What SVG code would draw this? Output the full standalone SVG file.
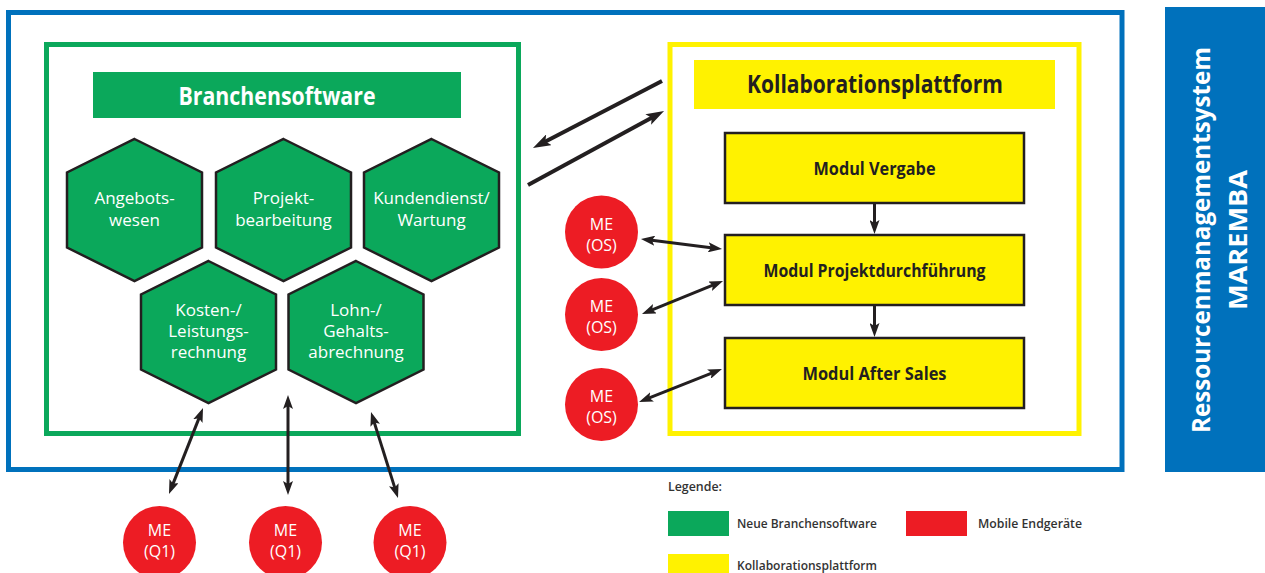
<svg xmlns="http://www.w3.org/2000/svg" width="1265" height="573" viewBox="0 0 1265 573">
<defs>
<style>
.frame{fill:none}
.hex{fill:#0BA85B;stroke:#231F20;stroke-width:2.5;stroke-linejoin:miter}
.hext{fill:#fff;font-family:"Open Sans","Noto Sans",sans-serif;font-size:17px;text-anchor:middle}
.me{fill:#ED1C24}
.met{fill:#fff;font-family:"Open Sans","Noto Sans",sans-serif;font-size:16px;text-anchor:middle}
.metq{fill:#fff;font-family:"Open Sans","Noto Sans",sans-serif;font-size:16px;text-anchor:middle}
.mod{fill:#FFF200;stroke:#231F20;stroke-width:2.5}
.modt{fill:#231F20;font-family:"Open Sans","Noto Sans",sans-serif;font-size:17px;font-weight:bold;text-anchor:middle}
.title{font-family:"Open Sans","Noto Sans",sans-serif;font-size:25px;font-weight:bold;text-anchor:middle}
.leg{fill:#333;font-family:"Open Sans","Noto Sans",sans-serif;font-size:12.5px;font-weight:600}
.arr{fill:none;stroke:#231F20;stroke-width:3}
.big{fill:none;stroke:#231F20;stroke-width:4}
</style>
<marker id="ah" viewBox="0 0 14 10" markerWidth="14" markerHeight="10" refX="5" refY="5" markerUnits="userSpaceOnUse" orient="auto-start-reverse">
<path d="M0,0 L14,5 L0,10 L3,5 z" fill="#231F20"/>
</marker>
<marker id="ahb" viewBox="0 0 18 12" markerWidth="18" markerHeight="12" refX="6" refY="6" markerUnits="userSpaceOnUse" orient="auto-start-reverse">
<path d="M0,0 L18,6 L0,12 L4,6 z" fill="#231F20"/>
</marker>
</defs>
<rect width="1265" height="573" fill="#fff"/>

<g id="outer-frame">
<rect x="8.5" y="12.5" width="1113.5" height="457" fill="none" stroke="#0071BC" stroke-width="5"/>
</g>

<g id="side-panel">
<rect x="1165" y="7" width="100" height="465" fill="#0071BC"/>
<text transform="translate(1210,240) rotate(-90)" class="title" fill="#fff" font-size="26" textLength="386" lengthAdjust="spacingAndGlyphs">Ressourcenmanagementsystem</text>
<text transform="translate(1247,240) rotate(-90)" class="title" fill="#fff" font-size="26" textLength="140" lengthAdjust="spacingAndGlyphs">MAREMBA</text>
</g>

<g id="branchensoftware">
<rect x="46.5" y="44.5" width="472" height="389" fill="none" stroke="#0BA85B" stroke-width="5"/>
<rect x="93" y="72" width="368" height="46" fill="#0BA85B"/>
<text x="277" y="105" class="title" fill="#fff" textLength="197" lengthAdjust="spacingAndGlyphs">Branchensoftware</text>
</g>

<g id="hex-angebotswesen">
<polygon class="hex" points="134.5,139 202,172.5 202,247.5 134.5,281 67,247.5 67,172.5"/>
<text class="hext" x="134.5" y="204">Angebots-</text>
<text class="hext" x="134.5" y="226">wesen</text>
</g>
<g id="hex-projektbearbeitung">
<polygon class="hex" points="283.5,139 351,172.5 351,247.5 283.5,281 216,247.5 216,172.5"/>
<text class="hext" x="283.5" y="204">Projekt-</text>
<text class="hext" x="283.5" y="226">bearbeitung</text>
</g>
<g id="hex-kundendienst">
<polygon class="hex" points="431.5,139 499,172.5 499,247.5 431.5,281 364,247.5 364,172.5"/>
<text class="hext" x="431.5" y="204">Kundendienst/</text>
<text class="hext" x="431.5" y="226">Wartung</text>
</g>
<g id="hex-kosten">
<polygon class="hex" points="208.5,261 276,294.5 276,369.5 208.5,403 141,369.5 141,294.5"/>
<text class="hext" x="208.5" y="316">Kosten-/</text>
<text class="hext" x="208.5" y="337">Leistungs-</text>
<text class="hext" x="208.5" y="358">rechnung</text>
</g>
<g id="hex-lohn">
<polygon class="hex" points="356,261 423.5,294.5 423.5,369.5 356,403 288.5,369.5 288.5,294.5"/>
<text class="hext" x="356" y="316">Lohn-/</text>
<text class="hext" x="356" y="337">Gehalts-</text>
<text class="hext" x="356" y="358">abrechnung</text>
</g>

<g id="kollaborationsplattform">
<rect x="670" y="44.5" width="409" height="389" fill="none" stroke="#FFF200" stroke-width="5"/>
<rect x="694" y="60" width="361" height="49" fill="#FFF200"/>
<text x="875" y="93" class="title" fill="#231F20" textLength="256" lengthAdjust="spacingAndGlyphs">Kollaborationsplattform</text>
</g>

<g id="modul-vergabe">
<rect class="mod" x="725" y="133" width="299" height="70"/>
<text class="modt" x="874.5" y="175" textLength="122" lengthAdjust="spacingAndGlyphs">Modul Vergabe</text>
</g>
<g id="modul-projektdurchfuehrung">
<rect class="mod" x="725" y="235" width="299" height="70"/>
<text class="modt" x="874.5" y="277" textLength="222" lengthAdjust="spacingAndGlyphs">Modul Projektdurchführung</text>
</g>
<g id="modul-after-sales">
<rect class="mod" x="725" y="338" width="299" height="70"/>
<text class="modt" x="874.5" y="380" textLength="144" lengthAdjust="spacingAndGlyphs">Modul After Sales</text>
</g>

<g id="me-os-1">
<circle class="me" cx="601.5" cy="232" r="36.5"/>
<text class="met" x="601.5" y="230">ME</text>
<text class="met" x="601.5" y="251">(OS)</text>
</g>
<g id="me-os-2">
<circle class="me" cx="601.5" cy="314.5" r="36.5"/>
<text class="met" x="601.5" y="312">ME</text>
<text class="met" x="601.5" y="333">(OS)</text>
</g>
<g id="me-os-3">
<circle class="me" cx="601.5" cy="404.5" r="36.5"/>
<text class="met" x="601.5" y="402">ME</text>
<text class="met" x="601.5" y="423">(OS)</text>
</g>

<g id="me-q1-1">
<circle class="me" cx="159.5" cy="542.5" r="36.5"/>
<text class="metq" x="159.5" y="536">ME</text>
<text class="metq" x="159.5" y="557">(Q1)</text>
</g>
<g id="me-q1-2">
<circle class="me" cx="285.5" cy="542.5" r="36.5"/>
<text class="metq" x="285.5" y="536">ME</text>
<text class="metq" x="285.5" y="557">(Q1)</text>
</g>
<g id="me-q1-3">
<circle class="me" cx="410" cy="542.5" r="36.5"/>
<text class="metq" x="410" y="536">ME</text>
<text class="metq" x="410" y="557">(Q1)</text>
</g>

<g id="connectors">
<line class="big" x1="662" y1="81" x2="543.6" y2="142.5" marker-end="url(#ahb)"/>
<line class="big" x1="528" y1="185" x2="653.5" y2="116.7" marker-end="url(#ahb)"/>
<line class="arr" x1="649.9" y1="240.1" x2="713.1" y2="247.9" marker-start="url(#ah)" marker-end="url(#ah)"/>
<line class="arr" x1="650.3" y1="310.6" x2="714.7" y2="284.4" marker-start="url(#ah)" marker-end="url(#ah)"/>
<line class="arr" x1="647.4" y1="398.7" x2="713.6" y2="372.3" marker-start="url(#ah)" marker-end="url(#ah)"/>
<line class="arr" x1="874.5" y1="203" x2="874.5" y2="225" marker-end="url(#ah)"/>
<line class="arr" x1="874.5" y1="305" x2="874.5" y2="328" marker-end="url(#ah)"/>
<line class="arr" x1="199.7" y1="416.4" x2="172.3" y2="485.6" marker-start="url(#ah)" marker-end="url(#ah)"/>
<line class="arr" x1="288" y1="404" x2="288" y2="486" marker-start="url(#ah)" marker-end="url(#ah)"/>
<line class="arr" x1="373.7" y1="420.6" x2="395.3" y2="489.4" marker-start="url(#ah)" marker-end="url(#ah)"/>
</g>

<g id="legend">
<text class="leg" x="668" y="491" textLength="54" lengthAdjust="spacingAndGlyphs">Legende:</text>
<rect x="668" y="511" width="61" height="25" fill="#0BA85B"/>
<text class="leg" x="737" y="528" textLength="140" lengthAdjust="spacingAndGlyphs">Neue Branchensoftware</text>
<rect x="906" y="511" width="61" height="25" fill="#ED1C24"/>
<text class="leg" x="978" y="528" textLength="104" lengthAdjust="spacingAndGlyphs">Mobile Endgeräte</text>
<rect x="668" y="554" width="61" height="19" fill="#FFF200"/>
<text class="leg" x="737" y="570" textLength="140" lengthAdjust="spacingAndGlyphs">Kollaborationsplattform</text>
</g>
</svg>
